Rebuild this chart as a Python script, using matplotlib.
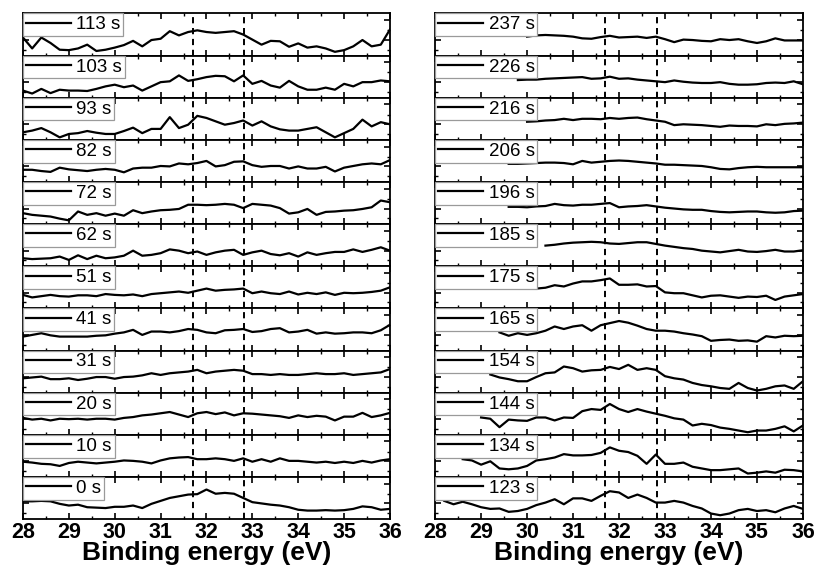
import numpy as np
import matplotlib
matplotlib.use("Agg")
import matplotlib.pyplot as plt

plt.rcParams['font.family'] = ['Liberation Sans', 'DejaVu Sans']

nan = np.nan

energy = [28.0, 28.2, 28.4, 28.6, 28.8, 29.0, 29.2, 29.4, 29.6, 29.8,
          30.0, 30.2, 30.4, 30.6, 30.8, 31.0, 31.2, 31.4, 31.6, 31.8,
          32.0, 32.2, 32.4, 32.6, 32.8, 33.0, 33.2, 33.4, 33.6, 33.8,
          34.0, 34.2, 34.4, 34.6, 34.8, 35.0, 35.2, 35.4, 35.6, 35.8, 36.0]

# reference lines (eV)
ref_lines = [31.7, 32.82]

# ---- left column (top to bottom) ----
left_labels = ["113 s", "103 s", "93 s", "82 s", "72 s", "62 s",
               "51 s", "41 s", "31 s", "20 s", "10 s", "0 s"]

s113 = [43, 17, 43, 30, 14, 13, 17, 26, 11, 14, 19, 25, 35, 22, 37, 40, 58, 48, 56, 60,
        56, 54, 56, 58, 50, 38, 26, 35, 34, 21, 29, 19, 22, 17, 9, 13, 22, 37, 22, 26, 62]
s103 = [17, 10, 21, 11, 19, 17, 17, 16, 21, 27, 31, 25, 29, 17, 27, 37, 39, 53, 40, 44,
        49, 52, 51, 39, 53, 33, 40, 29, 24, 40, 27, 19, 19, 24, 19, 33, 27, 37, 37, 41, 39]
s93 = [18, 22, 28, 18, 6, 14, 16, 21, 17, 14, 14, 21, 29, 16, 26, 26, 54, 28, 36, 57,
       52, 44, 36, 40, 46, 34, 44, 32, 25, 22, 22, 26, 30, 18, 6, 16, 26, 48, 32, 42, 37]
s82 = [29, 29, 26, 24, 34, 30, 28, 26, 29, 31, 29, 23, 32, 34, 34, 38, 37, 44, 42, 45,
       50, 37, 40, 48, 49, 40, 36, 38, 38, 32, 37, 32, 32, 36, 25, 34, 38, 42, 44, 42, 52]
s72 = [26, 22, 20, 18, 13, 9, 30, 22, 26, 20, 25, 20, 33, 26, 30, 33, 34, 36, 46, 46,
       45, 46, 48, 46, 38, 48, 46, 44, 38, 25, 28, 36, 22, 29, 30, 32, 33, 36, 40, 56, 52]
s62 = [19, 17, 18, 19, 23, 15, 26, 17, 25, 19, 21, 25, 37, 25, 27, 31, 40, 37, 31, 35,
       27, 33, 37, 39, 27, 33, 37, 29, 26, 31, 23, 33, 27, 31, 34, 34, 40, 34, 39, 45, 37]
s51 = [32, 26, 29, 32, 29, 28, 31, 31, 29, 34, 32, 31, 33, 29, 34, 36, 38, 40, 37, 42,
       47, 42, 44, 45, 47, 36, 40, 36, 34, 40, 33, 37, 34, 38, 32, 37, 36, 37, 39, 42, 50]
s41 = [33, 37, 41, 36, 33, 33, 33, 33, 35, 36, 40, 43, 49, 37, 45, 45, 43, 46, 51, 49,
       43, 41, 48, 49, 51, 44, 46, 51, 53, 43, 45, 49, 40, 43, 40, 41, 43, 43, 41, 48, 61]
s31 = [34, 36, 38, 32, 32, 34, 30, 33, 37, 37, 33, 37, 38, 41, 46, 42, 46, 48, 50, 54,
       46, 50, 52, 54, 52, 44, 44, 42, 44, 42, 42, 44, 46, 44, 44, 46, 42, 44, 46, 48, 56]
s20 = [40, 36, 38, 34, 38, 37, 38, 36, 38, 38, 36, 40, 42, 46, 48, 51, 54, 48, 42, 51,
       54, 49, 53, 46, 51, 50, 48, 46, 44, 40, 46, 42, 45, 43, 34, 43, 43, 52, 42, 46, 52]
s10 = [36, 34, 31, 30, 26, 33, 36, 34, 32, 34, 36, 39, 38, 36, 32, 39, 44, 46, 47, 42,
       42, 44, 42, 38, 44, 36, 42, 36, 44, 38, 38, 36, 34, 36, 33, 36, 33, 38, 34, 39, 42]
s0 = [42, 42, 43, 42, 36, 32, 34, 28, 27, 26, 29, 29, 32, 26, 36, 43, 50, 54, 58, 59,
      70, 60, 62, 60, 50, 40, 37, 34, 32, 28, 22, 20, 20, 21, 20, 21, 24, 30, 28, 22, 24]

left_series = [s113, s103, s93, s82, s72, s62, s51, s41, s31, s20, s10, s0]

# ---- right column (top to bottom) ----
right_labels = ["237 s", "226 s", "216 s", "206 s", "196 s", "185 s",
                "175 s", "165 s", "154 s", "144 s", "134 s", "123 s"]

s237 = [nan] * 10 + [45, 48, 49, 48, 47, 45, 41, 40, 44, 47,
                     43, 44, 45, 42, 45, 39, 32, 38, 37, 35, 34, 39, 37, 39, 34, 30, 34, 41, 36, 36, 36]
s226 = [nan] * 9 + [42, 43, 43, 45, 46, 47, 48, 49, 45, 46, 50,
                    45, 46, 43, 41, 39, 37, 41, 38, 36, 35, 35, 37, 33, 31, 31, 32, 35, 36, 35, 39, 32]
s216 = [nan] * 10 + [43, 44, 46, 47, 50, 47, 50, 50, 49, 52,
                     50, 52, 53, 49, 46, 43, 35, 37, 36, 35, 33, 31, 34, 33, 33, 32, 37, 35, 38, 39, 41]
s206 = [nan] * 8 + [43, 43, 44, 45, 46, 46, 45, 42, 50, 46, 48, 50,
                    51, 50, 48, 46, 44, 41, 41, 40, 39, 38, 35, 31, 30, 33, 35, 36, 35, 35, 35, 35, 35]
s196 = [nan] * 8 + [41, 41, 40, 42, 43, 48, 45, 44, 46, 46, 48, 50,
                    40, 42, 43, 45, 42, 39, 37, 35, 34, 34, 31, 29, 28, 29, 30, 30, 28, 27, 28, 31, 32]
s185 = [nan] * 12 + [49, 51, 54, 56, 57, 58, 57, 54,
                     53, 55, 57, 57, 53, 49, 46, 43, 41, 37, 35, 33, 36, 39, 35, 34, 36, 39, 35, 35, 38]
s175 = [nan] * 10 + [48, 47, 49, 55, 52, 59, 64, 64, 67, 71,
                     56, 56, 57, 52, 53, 38, 36, 36, 31, 26, 30, 31, 28, 25, 28, 27, 30, 20, 28, 31, 34]
s165 = [nan] * 7 + [43, 35, 41, 37, 41, 47, 57, 51, 57, 60, 47, 60, 65,
                    70, 66, 59, 51, 47, 47, 45, 41, 38, 34, 23, 25, 26, 23, 24, 21, 34, 31, 35, 34, 35]
s154 = [nan] * 6 + [43, 36, 32, 27, 27, 37, 46, 48, 62, 58, 50, 53, 54, 61,
                    56, 66, 54, 58, 54, 39, 34, 31, 23, 18, 15, 11, 9, 23, 11, 5, 9, 15, 17, 9, 27]
s144 = [nan] * 5 + [41, 38, 18, 36, 34, 33, 41, 41, 34, 41, 40, 56, 61, 59, 73,
                    61, 54, 61, 55, 50, 45, 39, 36, 22, 26, 23, 17, 14, 10, 6, 10, 10, 14, 20, 8, 22]
s134 = [nan] * 3 + [42, 39, 29, 37, 20, 18, 20, 26, 39, 42, 46, 54, 51, 51, 52, 57, 70,
                    62, 59, 50, 31, 53, 31, 31, 34, 24, 20, 16, 16, 18, 20, 8, 10, 13, 10, 17, 16, 13]
s123 = [nan] + [43, 35, 41, 35, 28, 24, 25, 17, 19, 24, 33, 39, 47, 35, 49, 49, 43, 55, 66,
                63, 50, 58, 50, 39, 39, 43, 39, 31, 25, 13, 9, 13, 21, 24, 19, 21, 16, 25, 31, 24]

right_series = [s237, s226, s216, s206, s196, s185, s175, s165, s154, s144, s134, s123]

fig = plt.figure(figsize=(8.21, 5.74), dpi=100)

columns = [
    (left_series, left_labels, 0.028, 0.475),
    (right_series, right_labels, 0.530, 0.978),
]

for series_list, labels, l, r in columns:
    gs = fig.add_gridspec(12, 1, left=l, right=r, top=0.9765, bottom=0.0958, hspace=0)
    for i, (vals, lab) in enumerate(zip(series_list, labels)):
        ax = fig.add_subplot(gs[i, 0])
        line, = ax.plot(energy, vals, color='black', lw=1.6, zorder=3)
        for xv in ref_lines:
            ax.axvline(xv, color='black', lw=1.4, ls=(0, (3.2, 2.4)), zorder=2)
        ax.set_xlim(28, 36)
        ax.set_ylim(0, 100)
        ax.set_xticks(np.arange(28, 36.5, 1))
        ax.set_xticks(np.arange(28.5, 36, 1), minor=True)
        ax.set_yticks([37, 84])
        ax.set_yticks([14, 60], minor=True)
        ax.tick_params(which='both', direction='in', top=True, right=True,
                       left=True, bottom=True, labelleft=False)
        ax.tick_params(which='major', length=4.5, width=1.2)
        ax.tick_params(which='minor', length=2.5, width=1.0)
        for sp in ax.spines.values():
            sp.set_linewidth(1.3)
        leg = ax.legend([line], [lab], loc='upper left', borderaxespad=0,
                        fancybox=False, framealpha=1, edgecolor='#9a9a9a',
                        fontsize=13.5, handlelength=2.4, handletextpad=0.3,
                        borderpad=0.15)
        leg.get_frame().set_linewidth(0.9)
        leg.set_zorder(5)
        if i < 11:
            ax.tick_params(labelbottom=False)
        else:
            ax.tick_params(labelbottom=True, pad=2)
            for t in ax.get_xticklabels():
                t.set_fontsize(15.5)
                t.set_fontweight('bold')
            ax.set_xlabel("Binding energy (eV)", fontsize=19, fontweight='bold', labelpad=-1)

fig.savefig("out.png", dpi=100)
